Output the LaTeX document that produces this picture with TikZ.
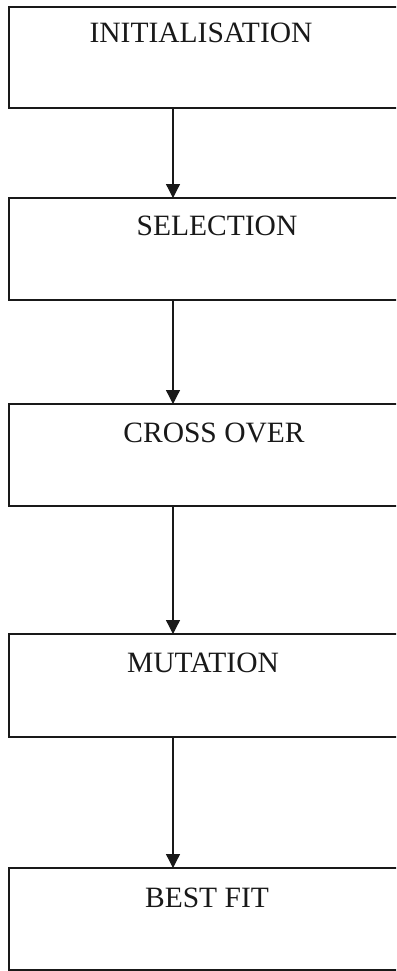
\documentclass[tikz,border=0pt]{standalone}
\usepackage{fontspec}
\setmainfont{Liberation Serif}
\usetikzlibrary{arrows.meta}

\tikzset{
  stage/.style={draw=black!90, line width=1.3pt, rectangle, inner sep=0pt, outer sep=0pt,
                minimum width=411pt},
  caption/.style={anchor=base, inner sep=0pt, font=\fontsize{29.5}{34}\selectfont, text=black!90},
  flow/.style={draw=black!90, line width=1.3pt, -{Triangle[length=14pt,width=14pt]}}
}

\begin{document}
\begin{tikzpicture}[x=1pt, y=-1pt]
  \useasboundingbox (0,0) rectangle (396,971);
  \clip (0,0) rectangle (396,971);
  \fill[white] (0,0) rectangle (396,971);

  % column of the connectors
  \coordinate (axis) at (173,0);

  % stage boxes (they run past the right edge)
  \node[stage, minimum height=101pt] (b1) at (214.5,57.5)  {};
  \node[stage, minimum height=102pt] (b2) at (214.5,249)   {};
  \node[stage, minimum height=102pt] (b3) at (214.5,455)   {};
  \node[stage, minimum height=103pt] (b4) at (214.5,685.5) {};
  \node[stage, minimum height=102pt] (b5) at (214.5,919)   {};

  % stage titles
  \node[caption] (t1) at (201,43)  {INITIALISATION};
  \node[caption] (t2) at (217,235) {SELECTION};
  \node[caption] (t3) at (214,442) {CROSS OVER};
  \node[caption] (t4) at (203,672) {MUTATION};
  \node[caption] (t5) at (207,907) {BEST FIT};

  % connectors
  \draw[flow] (b1.south -| axis) -- (b2.north -| axis);
  \draw[flow] (b2.south -| axis) -- (b3.north -| axis);
  \draw[flow] (b3.south -| axis) -- (b4.north -| axis);
  \draw[flow] (b4.south -| axis) -- (b5.north -| axis);
\end{tikzpicture}
\end{document}
